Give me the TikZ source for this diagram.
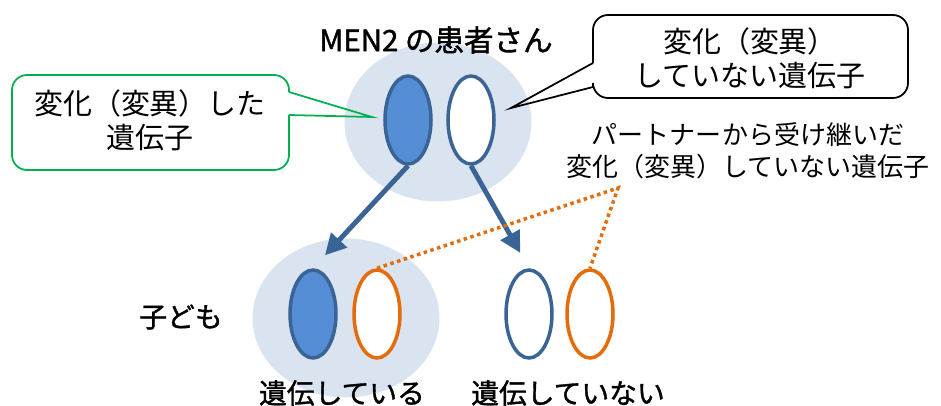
\documentclass[tikz,border=0pt]{standalone}
\usepackage{fontspec}
\setmainfont{Noto Sans CJK JP}
\newfontfamily\heavyjp[FakeBold=1.3]{Noto Sans CJK JP}
\usetikzlibrary{shapes.geometric,arrows.meta}

\definecolor{bgblue}{HTML}{DAE3F0}
\definecolor{geneblue}{HTML}{558ED5}
\definecolor{darkblue}{HTML}{3A6496}
\definecolor{partnerorange}{HTML}{E46C0A}
\definecolor{calloutgreen}{HTML}{00B050}

\tikzstyle{bg}=[ellipse, fill=bgblue, minimum width=3.74cm, minimum height=3.18cm, inner sep=0pt]
\tikzstyle{gene}=[ellipse, line width=2pt, minimum width=0.92cm, minimum height=1.76cm, inner sep=0pt]
\tikzstyle{mutant}=[gene, draw=darkblue, fill=geneblue]
\tikzstyle{normal}=[gene, draw=darkblue, fill=white]
\tikzstyle{partner}=[gene, draw=partnerorange, fill=white]
\tikzstyle{inherit}=[-{Triangle[length=0.42cm,width=0.42cm]}, line width=2.8pt, draw=darkblue, shorten >=10]
\tikzstyle{link}=[draw=partnerorange, line width=2pt, dash pattern=on 2pt off 2pt]
\tikzstyle{bubble}=[line width=1pt, rounded corners=0.3cm]
\tikzstyle{bubbletext}=[align=center, font=\fontsize{16.5}{19.5}\selectfont]
\tikzstyle{label}=[font=\heavyjp\fontsize{15.8}{18}\selectfont]

\begin{document}
\begin{tikzpicture}[x=0.02cm, y=-0.02cm]
    \useasboundingbox (0, 0) rectangle (941, 406);

    \node[bg] (patient) at (438, 122) {};
    \node[bg] (child) at (346, 318) {};

    \node[label, font=\heavyjp\fontsize{16.8}{18}\selectfont] (title) at (436, 40) {MEN2 の患者さん};
    \node[mutant] (p1) at (408, 120) {};
    \node[normal] (p2) at (471, 120) {};

    \node[mutant] (c1) at (313, 314) {};
    \node[partner] (c2) at (377, 314) {};
    \node[normal] (c3) at (529, 314) {};
    \node[partner] (c4) at (590, 314) {};

    \node[label] (kids) at (181, 317) {子ども};
    \node[label] (yes) at (342, 393) {遺伝している};
    \node[label] (no) at (568, 393) {遺伝していない};

    \draw[inherit] (p1.south) -- (c1.north);
    \draw[inherit] (p2.south) -- (c3.north);

    \node[align=center, font=\fontsize{14.8}{18.2}\selectfont] (partnertext) at (748, 151) {パートナーから受け継いだ\\変化（変異）していない遺伝子};
    \coordinate (meet) at (618, 188);
    \draw[link] (c2.north) -- (meet) -- (c4.north);

    \node[bubbletext] (mutated) at (150, 120) {変化（変異）した\\遺伝子};
    \coordinate (ltip) at (372, 117);
    \draw[bubble, calloutgreen] (289, 115) -- (289, 170) -- (12, 170) -- (12, 75) -- (289, 75) -- (289, 92);
    \draw[calloutgreen, line width=1pt] (289, 92) -- (ltip) -- (289, 115);

    \node[bubbletext] (unmutated) at (750, 58) {変化（変異）\\していない遺伝子};
    \coordinate (rtip) at (511, 108);
    \draw[bubble] (593, 87) -- (593, 98) -- (908, 98) -- (908, 15) -- (593, 15) -- (593, 63);
    \draw[line width=1pt] (593, 63) -- (rtip) -- (593, 87);
\end{tikzpicture}
\end{document}
